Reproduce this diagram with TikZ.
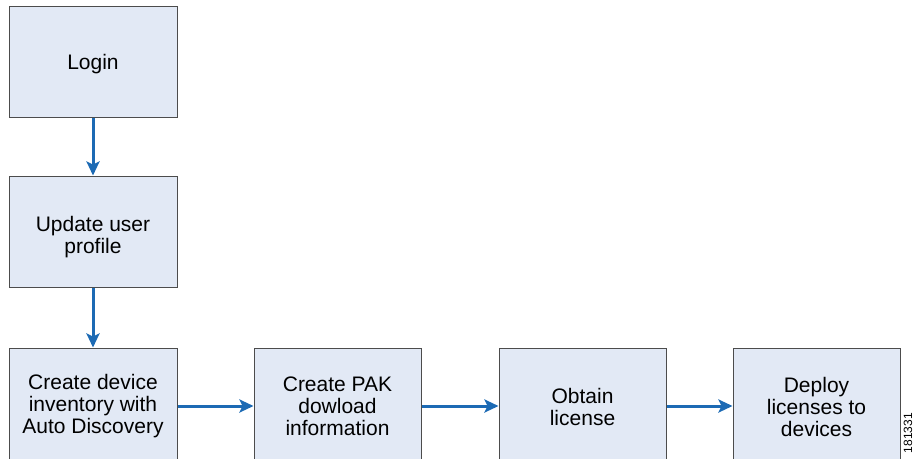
\documentclass[tikz,border=0pt]{standalone}
\usepackage{fontspec}
\setmainfont{Liberation Sans}
\usetikzlibrary{positioning,arrows.meta}
\definecolor{boxfill}{HTML}{E2E9F5}
\definecolor{flowblue}{HTML}{1C6AB4}
\newcommand*{\stagefont}{\fontsize{21}{22}\selectfont}

\begin{document}
\begin{tikzpicture}[x=1pt,y=-1pt,
  stage/.style={draw=black!70,fill=boxfill,line width=1pt,minimum width=168pt,
                minimum height=111pt,inner sep=0pt},
  caption/.style={align=center,inner sep=0pt,font=\stagefont},
  flow/.style={flowblue,line width=3pt,-{Stealth[length=14pt,width=13pt,inset=3pt]}}]
\useasboundingbox (0,0) rectangle (915,458);
% Column of first steps
\node[stage,label={[caption,yshift=-2.5pt]center:Login}] (login) at (93,61.5) {};
\node[stage,label={[caption,yshift=-6pt]center:{Update user\\profile}}]
  (profile) at (93,231.5) {};
\node[stage,label={[caption,yshift=-3pt]center:{Create device\\inventory with\\Auto Discovery}}]
  (inventory) at (93,403.5) {};
% Row of licence steps
\node[stage,minimum width=167pt,label={[caption,yshift=-3pt]center:{Create PAK\\dowload\\information}}]
  (pak) at (337.5,403.5) {};
\node[stage,minimum width=167pt,label={[caption,yshift=-3pt]center:{Obtain\\license}}]
  (license) at (582.5,403.5) {};
\node[stage,minimum width=167pt,label={[caption,yshift=-3pt]center:{Deploy\\licenses to\\devices}}]
  (deploy) at (816.5,403.5) {};
% Connectors
\draw[flow] (login) -- (profile);
\draw[flow] (profile) -- (inventory);
\draw[flow] ([yshift=-2.5pt]inventory.east) -- ([yshift=-2.5pt]pak.west);
\draw[flow] ([yshift=-2.5pt]pak.east) -- ([yshift=-2.5pt]license.west);
\draw[flow] ([yshift=-2.5pt]license.east) -- ([yshift=-2.5pt]deploy.west);
% Figure number
\node[rotate=90,anchor=base east,inner sep=0pt,font=\fontsize{12}{13}\selectfont]
  (figno) at (912,413) {181331};
\end{tikzpicture}
\end{document}
